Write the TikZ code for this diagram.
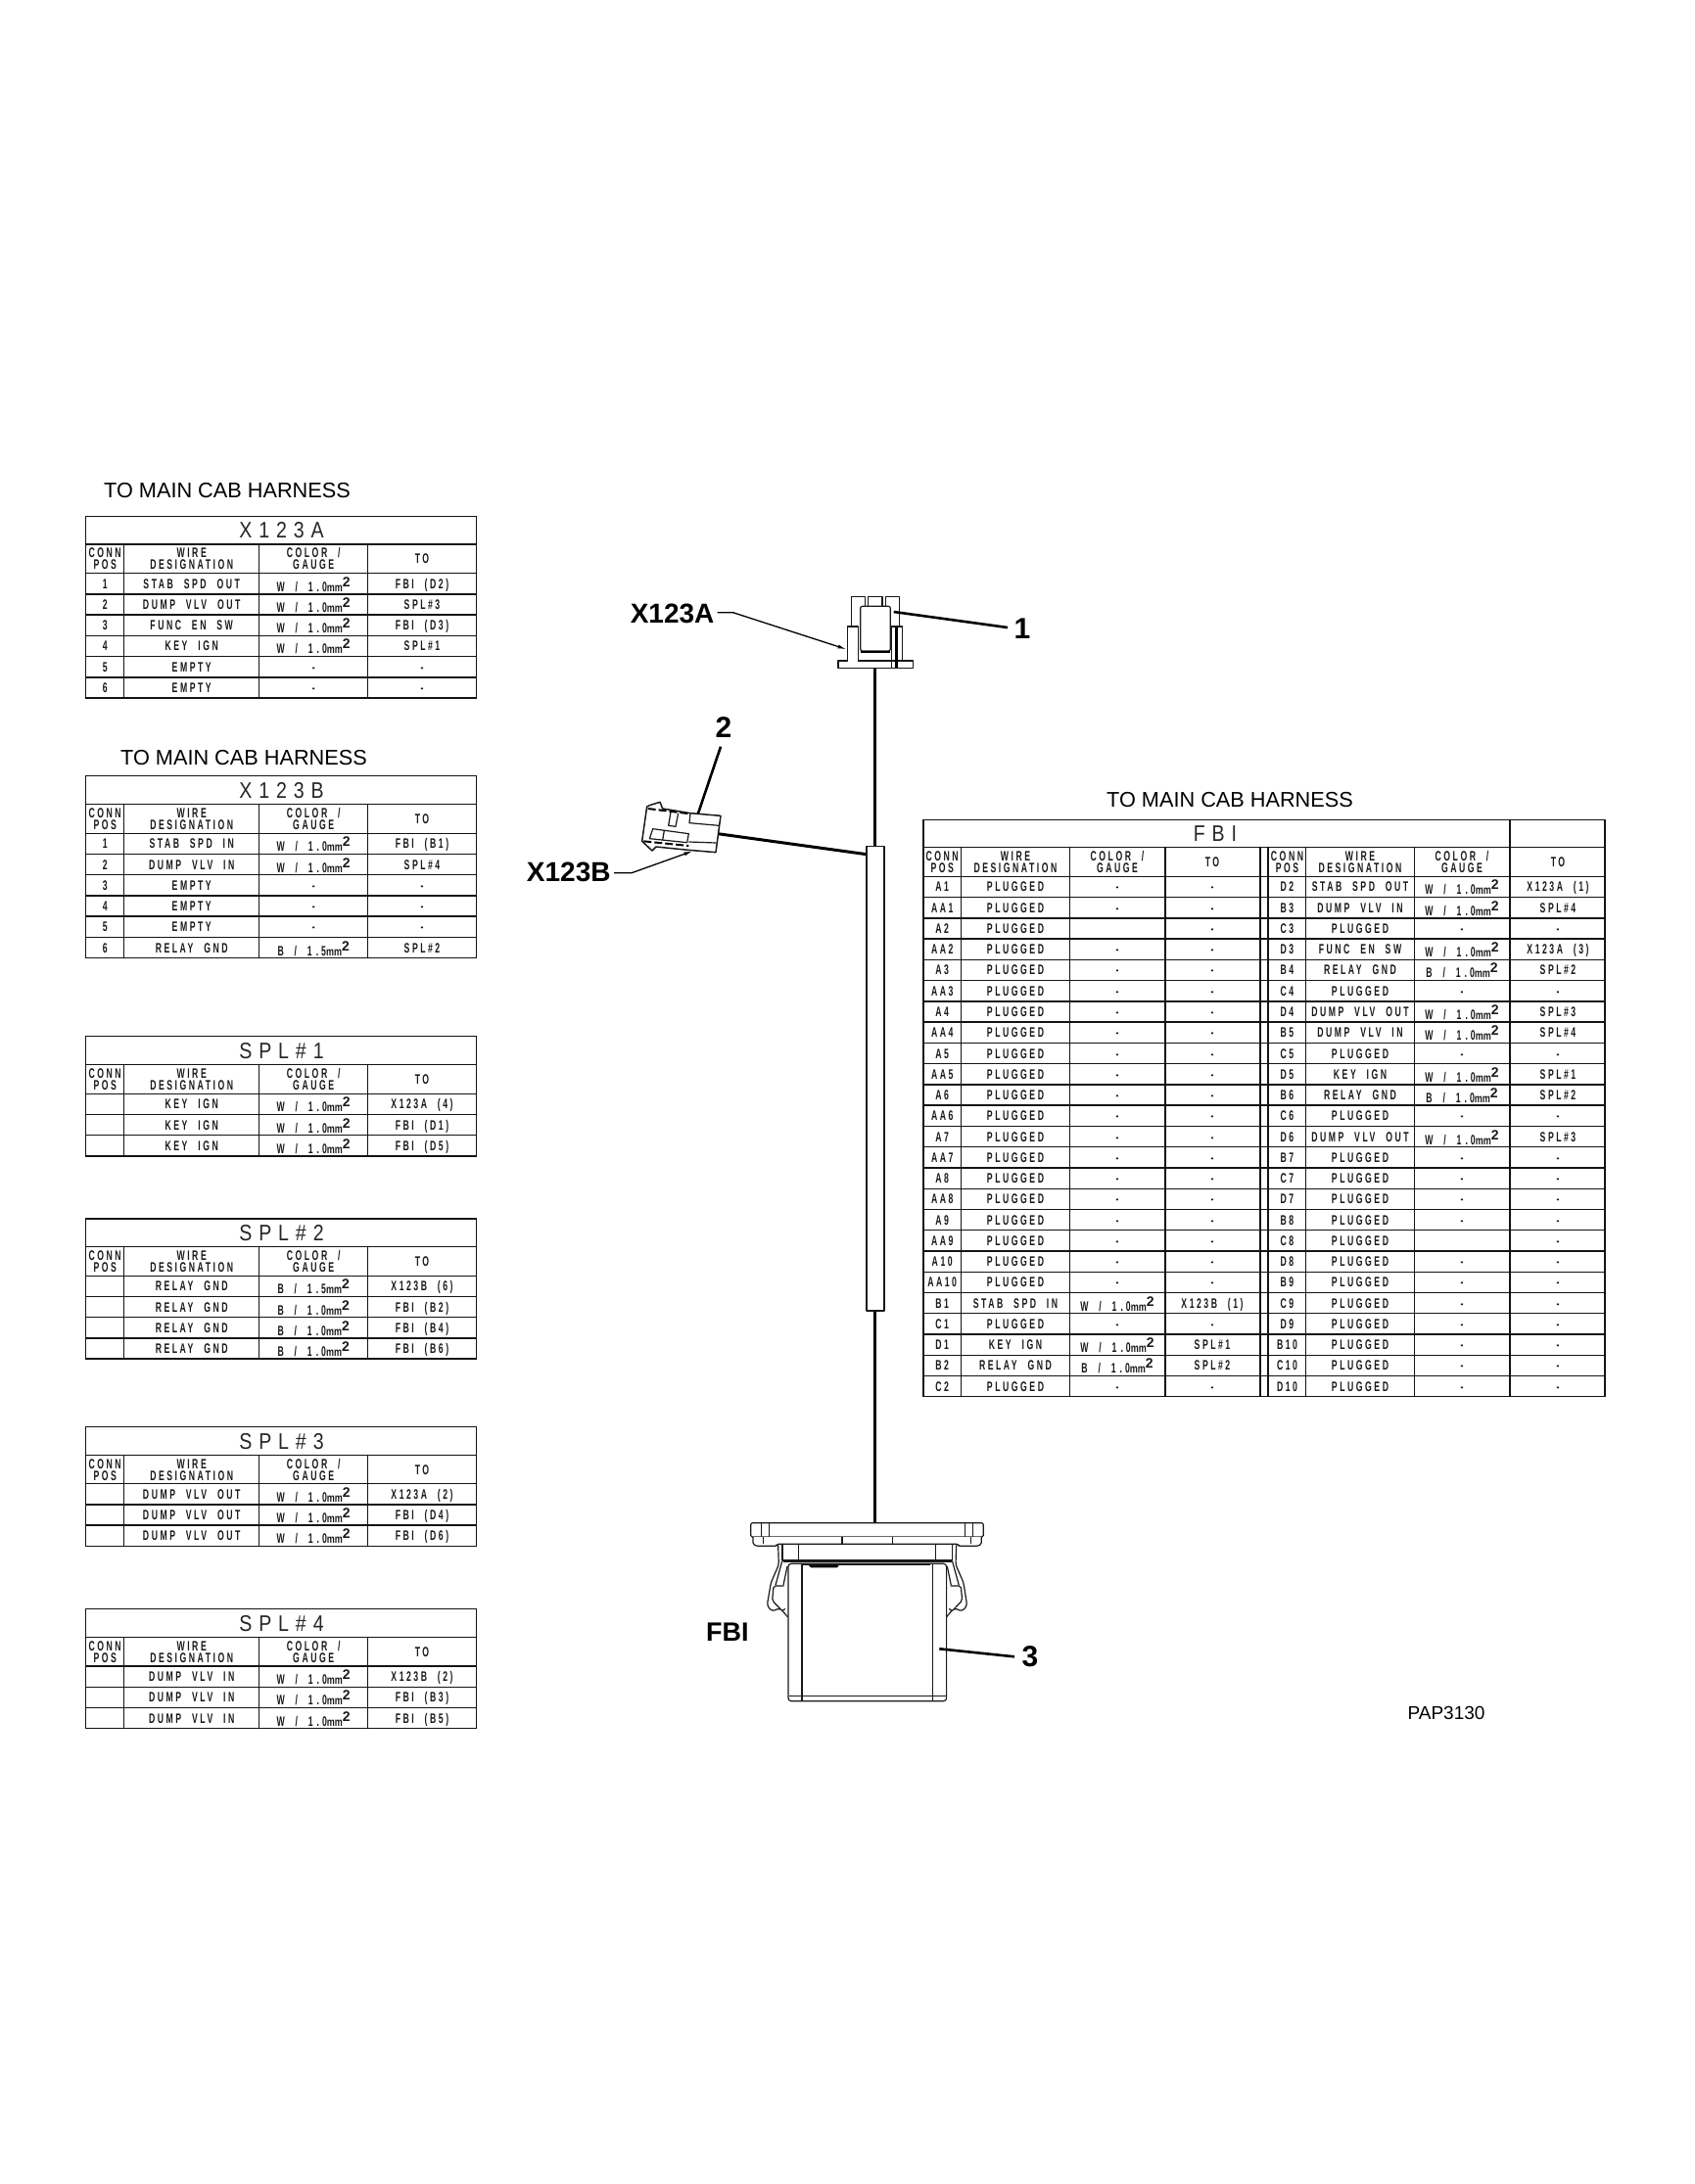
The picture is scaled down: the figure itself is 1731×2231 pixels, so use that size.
\documentclass[tikz,border=0pt]{standalone}
\usepackage{fontspec}
\usetikzlibrary{arrows.meta}
\setmainfont{Liberation Sans}
\newfontfamily\cellfam[FakeStretch=0.62,LetterSpace=18,WordSpace=2.2]{Liberation Sans}
\newfontfamily\ttlfam[FakeStretch=0.85,LetterSpace=30]{Liberation Sans}
\newcommand{\cellfont}{\cellfam\bfseries\fontsize{14}{14}\selectfont}
\newcommand{\ttlfont}{\ttlfam\fontsize{23}{23}\selectfont}
\newcommand{\mmm}{{\fontspec{Liberation Sans}[FakeStretch=0.75]\bfseries\fontsize{12}{12}\selectfont mm}\raisebox{5pt}{{\fontspec{Liberation Sans}\fontsize{14}{14}\selectfont 2}}}
\newcommand{\oneo}{1\hspace{4pt}.\hspace{3pt}0}
\newcommand{\cW}{\raisebox{-3pt}{W / \oneo\mmm}}
\newcommand{\cB}{\raisebox{-3pt}{B / \oneo\mmm}}
\newcommand{\cBf}{\raisebox{-3pt}{B / 1\hspace{4pt}.\hspace{3pt}5\mmm}}
\tikzset{
  tline/.style={line width=1.4pt,line cap=rect,draw=black!92},
  cell/.style={inner sep=0pt,font=\cellfont,text height=10pt,text depth=0pt,text=black!90},
  ttl/.style={inner sep=0pt,font=\ttlfont,text height=16.5pt,text depth=0pt,text=black!85},
  harn/.style={inner sep=0pt,font=\fontsize{21.7}{23}\selectfont,text=black},
  callout/.style={inner sep=0pt,font=\bfseries\fontsize{28}{28}\selectfont,text=black},
  callnum/.style={inner sep=0pt,font=\bfseries\fontsize{30}{30}\selectfont,text=black},
  part/.style={line width=1.2pt,draw=black!90,line join=round},
  leader/.style={line width=1.3pt,draw=black},
  callline/.style={line width=2.6pt,draw=black},
  wire/.style={line width=3pt,draw=black}
}
\newcommand{\hdr}[5]{% name, x, ymid, line1, line2
  \node[cell,name=#1a] at (#2,{#3-6}) {#4};
  \node[cell,name=#1b] at (#2,{#3+6}) {#5};}
\newcommand{\mktable}[6]{% name, top, titlebot, headbot, title, nrows
  \def\tn{#1}\def\hb{#4}
  \pgfmathsetmacro{\tbot}{#4+#6*21.22}
  \draw[tline] (87.7,#2) rectangle (486.3,\tbot);
  \draw[tline] (87.7,#3) -- (486.3,#3);
  \draw[tline] (87.7,#4) -- (486.3,#4);
  \foreach \i in {1,...,#6}{\draw[tline] (87.7,{#4+\i*21.22}) -- (486.3,{#4+\i*21.22});}
  \foreach \xx in {126.7,264.7,375.7}{\draw[tline] (\xx,#3) -- (\xx,\tbot);}
  \node[ttl,name=#1-title] at (287.5,{(#2+#3)/2}) {#5};
  \pgfmathsetmacro{\hm}{(#3+#4)/2}
  \hdr{#1-h1}{107.2}{\hm}{CONN}{POS}
  \hdr{#1-h2}{195.7}{\hm}{WIRE}{DESIGNATION}
  \hdr{#1-h3}{320.2}{\hm}{COLOR /}{GAUGE}
  \node[cell,name=#1-h4] at (431,\hm) {TO};
}
\newcommand{\xrow}[5]{% n, pos, wire, color, to
  \pgfmathsetmacro{\ry}{\hb+(#1-.5)*21.22}
  \node[cell,name=\tn-#1a] at (107.2,\ry) {#2};
  \node[cell,name=\tn-#1b] at (195.7,\ry) {#3};
  \node[cell,name=\tn-#1c] at (320.2,\ry) {#4};
  \node[cell,name=\tn-#1d] at (431,\ry) {#5};
}
\newcommand{\frow}[9]{%
  \pgfmathsetmacro{\ry}{895.3+(#1-.5)*21.26}
  \node[cell,name=f-#1a] at (961.2,\ry) {#2};
  \node[cell,name=f-#1b] at (1036,\ry) {#3};
  \node[cell,name=f-#1c] at (1140,\ry) {#4};
  \node[cell,name=f-#1d] at (1237,\ry) {#5};
  \node[cell,name=f-#1e] at (1313.5,\ry) {#6};
  \node[cell,name=f-#1f] at (1388,\ry) {#7};
  \node[cell,name=f-#1g] at (1492,\ry) {#8};
  \node[cell,name=f-#1h] at (1590,\ry) {#9};
}
\newcommand{\PL}{PLUGGED}
\begin{document}
\begin{tikzpicture}[x=1pt,y=-1pt]
\useasboundingbox (0,0) rectangle (1731,2231);
\fill[white] (0,0) rectangle (1731,2231);

% ---- harness titles
\node[harn,name=h1] at (232,501) {TO MAIN CAB HARNESS};
\node[harn,name=h2] at (249,774) {TO MAIN CAB HARNESS};
\node[harn,name=h3] at (1256,817) {TO MAIN CAB HARNESS};

% ---- X123A
\mktable{xa}{527.3}{556}{585.7}{X123A}{6}
\xrow{1}{1}{STAB SPD OUT}{\cW}{FBI (D2)}
\xrow{2}{2}{DUMP VLV OUT}{\cW}{SPL\#3}
\xrow{3}{3}{FUNC EN SW}{\cW}{FBI (D3)}
\xrow{4}{4}{KEY IGN}{\cW}{SPL\#1}
\xrow{5}{5}{EMPTY}{-}{-}
\xrow{6}{6}{EMPTY}{-}{-}
% ---- X123B
\mktable{xb}{792.7}{821.7}{851.3}{X123B}{6}
\xrow{1}{1}{STAB SPD IN}{\cW}{FBI (B1)}
\xrow{2}{2}{DUMP VLV IN}{\cW}{SPL\#4}
\xrow{3}{3}{EMPTY}{-}{-}
\xrow{4}{4}{EMPTY}{-}{-}
\xrow{5}{5}{EMPTY}{-}{-}
\xrow{6}{6}{RELAY GND}{\cBf}{SPL\#2}
% ---- SPL 1
\mktable{s1}{1058.3}{1087.7}{1117.3}{SPL\#1}{3}
\xrow{1}{}{KEY IGN}{\cW}{X123A (4)}
\xrow{2}{}{KEY IGN}{\cW}{FBI (D1)}
\xrow{3}{}{KEY IGN}{\cW}{FBI (D5)}
% ---- SPL 2
\mktable{s2}{1245}{1273.7}{1303.3}{SPL\#2}{4}
\xrow{1}{}{RELAY GND}{\cBf}{X123B (6)}
\xrow{2}{}{RELAY GND}{\cB}{FBI (B2)}
\xrow{3}{}{RELAY GND}{\cB}{FBI (B4)}
\xrow{4}{}{RELAY GND}{\cB}{FBI (B6)}
% ---- SPL 3
\mktable{s3}{1457.7}{1486.3}{1515.7}{SPL\#3}{3}
\xrow{1}{}{DUMP VLV OUT}{\cW}{X123A (2)}
\xrow{2}{}{DUMP VLV OUT}{\cW}{FBI (D4)}
\xrow{3}{}{DUMP VLV OUT}{\cW}{FBI (D6)}
% ---- SPL 4
\mktable{s4}{1643.3}{1672.3}{1702}{SPL\#4}{3}
\xrow{1}{}{DUMP VLV IN}{\cW}{X123B (2)}
\xrow{2}{}{DUMP VLV IN}{\cW}{FBI (B3)}
\xrow{3}{}{DUMP VLV IN}{\cW}{FBI (B5)}

% ---- FBI table
\begin{scope}[shift={(1,0)}]
\draw[tline] (941.9,837.3) rectangle (1638,1426.7);
\draw[tline] (941.9,865.3) -- (1638,865.3);
\draw[tline] (941.9,895.3) -- (1638,895.3);
\draw[tline] (1541,837.3) -- (1541,865.3);
\foreach \i in {1,...,24}{\draw[tline] (941.9,{895.3+\i*21.26}) -- (1638,{895.3+\i*21.26});}
\foreach \xx in {980.5,1091.6,1189,1285.8,1294,1332.7,1443.3,1541}{\draw[tline] (\xx,865.3) -- (\xx,1426.7);}
\node[ttl,name=f-title] at (1240,851.3) {FBI};
\hdr{f-h1}{961.2}{880.3}{CONN}{POS}
\hdr{f-h2}{1036}{880.3}{WIRE}{DESIGNATION}
\hdr{f-h3}{1140}{880.3}{COLOR /}{GAUGE}
\node[cell,name=f-h4] at (1237,880.3) {TO};
\hdr{f-h5}{1313.5}{880.3}{CONN}{POS}
\hdr{f-h6}{1388}{880.3}{WIRE}{DESIGNATION}
\hdr{f-h7}{1492}{880.3}{COLOR /}{GAUGE}
\node[cell,name=f-h8] at (1590,880.3) {TO};
\frow{1}{A1}{\PL}{-}{-}{D2}{STAB SPD OUT}{\cW}{X123A (1)}
\frow{2}{AA1}{\PL}{-}{-}{B3}{DUMP VLV IN}{\cW}{SPL\#4}
\frow{3}{A2}{\PL}{}{-}{C3}{\PL}{-}{-}
\frow{4}{AA2}{\PL}{-}{-}{D3}{FUNC EN SW}{\cW}{X123A (3)}
\frow{5}{A3}{\PL}{-}{-}{B4}{RELAY GND}{\cB}{SPL\#2}
\frow{6}{AA3}{\PL}{-}{-}{C4}{\PL}{-}{-}
\frow{7}{A4}{\PL}{-}{-}{D4}{DUMP VLV OUT}{\cW}{SPL\#3}
\frow{8}{AA4}{\PL}{-}{-}{B5}{DUMP VLV IN}{\cW}{SPL\#4}
\frow{9}{A5}{\PL}{-}{-}{C5}{\PL}{-}{-}
\frow{10}{AA5}{\PL}{-}{-}{D5}{KEY IGN}{\cW}{SPL\#1}
\frow{11}{A6}{\PL}{-}{-}{B6}{RELAY GND}{\cB}{SPL\#2}
\frow{12}{AA6}{\PL}{-}{-}{C6}{\PL}{-}{-}
\frow{13}{A7}{\PL}{-}{-}{D6}{DUMP VLV OUT}{\cW}{SPL\#3}
\frow{14}{AA7}{\PL}{-}{-}{B7}{\PL}{-}{-}
\frow{15}{A8}{\PL}{-}{-}{C7}{\PL}{-}{-}
\frow{16}{AA8}{\PL}{-}{-}{D7}{\PL}{-}{-}
\frow{17}{A9}{\PL}{-}{-}{B8}{\PL}{-}{-}
\frow{18}{AA9}{\PL}{-}{-}{C8}{\PL}{}{-}
\frow{19}{A10}{\PL}{-}{-}{D8}{\PL}{-}{-}
\frow{20}{AA10}{\PL}{-}{-}{B9}{\PL}{-}{-}
\frow{21}{B1}{STAB SPD IN}{\cW}{X123B (1)}{C9}{\PL}{-}{-}
\frow{22}{C1}{\PL}{-}{-}{D9}{\PL}{-}{-}
\frow{23}{D1}{KEY IGN}{\cW}{SPL\#1}{B10}{\PL}{-}{-}
\frow{24}{B2}{RELAY GND}{\cB}{SPL\#2}{C10}{\PL}{-}{-}
\frow{25}{C2}{\PL}{-}{-}{D10}{\PL}{-}{-}
\end{scope}

% ---- wires and sleeve
\coordinate (flangeA) at (893.5,682);
\coordinate (sleeveT) at (893.5,864.3);
\coordinate (sleeveB) at (893.5,1339);
\coordinate (fbiTop) at (893.5,1555.7);
\coordinate (sleeveL) at (885,872.7);
\coordinate (connBr) at (733.3,851.7);
\draw[wire] (flangeA) -- (sleeveT);
\draw[wire] (sleeveB) -- (fbiTop);
\draw[wire] (connBr) -- (sleeveL);
\draw[part] (885,864.3) rectangle (903,1339);

% ---- connector X123A (zoom coordinates)
\begin{scope}[shift={(840,600)},x=0.3333pt,y=-0.3333pt]
  \draw[part] (88,120) -- (88,28) -- (130,28) -- (130,58);
  \draw[part] (140,58) -- (140,28) -- (183,28) -- (183,58);
  \draw[part] (193,58) -- (193,28) -- (235,28) -- (235,120);
  \draw[part] (48,225) -- (48,247) -- (277,247) -- (277,225) -- cycle;
  \fill[white] (78,121) rectangle (109,247);
  \draw[part] (77,225) -- (77,120) -- (110,120) -- (110,225);
  \draw[part] (212,245) -- (212,120) -- (245,120) -- (245,225);
  \draw[line width=2.4pt] (226,122) -- (226,245);
  \draw[part,fill=white,rounded corners=2pt] (116,195) -- (116,58) -- (208,58) -- (208,195) -- cycle;
  \draw[line width=2.4pt] (116,198) -- (208,198);
\end{scope}

% ---- connector X123B (zoom coordinates)
\begin{scope}[shift={(640,800)},x=0.3333pt,y=-0.3333pt]
  \draw[part,line width=1.5pt] (62,72) -- (47,178) -- (78,207) -- (90,195) -- (190,205) -- (273,212) -- (288,100) -- (195,92) -- (110,78) -- (102,58) -- (70,68) -- cycle;
  \draw[part] (195,92) -- (192,122) -- (283,130);
  \draw[part] (190,180) -- (275,183);
  \draw[part] (135,88) -- (128,130) -- (150,133) -- (158,92);
  \draw[part] (80,140) -- (70,170) -- (185,182) -- (190,155) -- cycle;
  \draw[part] (115,145) -- (110,175);
  \draw[line width=2pt,dash pattern=on 8pt off 3pt] (65,78) -- (195,94);
  \draw[line width=2pt,dash pattern=on 8pt off 3pt] (52,178) -- (190,192);
\end{scope}

% ---- connector FBI (zoom coordinates)
\begin{scope}[shift={(700,1520)},x=0.3333pt,y=-0.3333pt]
  \draw[part,fill=white,rounded corners=1.5pt] (200,150) -- (200,107) -- (913,107) -- (913,150) -- cycle;
  \draw[part,fill=white,rounded corners=1.5pt] (207,150) -- (207,172) -- (218,178) -- (280,178) -- (280,172) -- (836,172) -- (836,178) -- (895,178) -- (907,172) -- (907,150);
  \draw[part] (238,150) -- (238,172) (875,150) -- (875,172) (480,150) -- (480,172) (634,150) -- (634,172);
  \draw[part] (232,107) -- (232,150) (256,107) -- (256,150) (857,107) -- (857,150) (880,107) -- (880,150);
  \draw[part] (297,172) -- (297,222) -- (818,222) -- (818,172);
  \draw[part] (347,172) -- (347,222) (767,172) -- (767,222);
  \draw[part] (300,226) -- (818,226);
  \draw[part,rounded corners=3pt] (315,232) -- (315,653) -- (800,653) -- (800,232) -- cycle;
  \draw[part] (357,232) -- (357,653) (757,232) -- (757,653);
  \draw[part] (318,637) -- (798,637);
  \draw[part] (360,236) -- (750,236);
  \fill (378,237) -- (470,237) -- (465,244) -- (385,244) -- cycle;
  \draw[part,rounded corners=3pt] (284,175) -- (286,235) -- (262,290) -- (250,360) -- (265,378) -- (290,368) -- (313,395);
  \draw[part] (296,225) -- (276,298) (312,240) -- (300,298);
  \draw[part,fill=white,rounded corners=2pt] (302,300) -- (270,300) -- (266,345) -- (298,378) -- (305,370);
  \draw[part,rounded corners=3pt] (830,175) -- (828,235) -- (852,290) -- (863,360) -- (848,378) -- (823,368) -- (800,395);
  \draw[part] (818,225) -- (838,298) (802,240) -- (814,298);
  \draw[part,fill=white,rounded corners=2pt] (812,300) -- (844,300) -- (848,345) -- (816,378) -- (808,370);
\end{scope}

% ---- callouts
\node[callout,name=lxa] at (686.6,626.7) {X123A};
\node[callout,name=lxb] at (580.8,890.7) {X123B};
\node[callout,font=\bfseries\fontsize{27}{27}\selectfont,name=lfb] at (742.8,1667.5) {FBI};
\node[callnum,name=n1] at (1044,642) {1};
\node[callnum,name=n2] at (739,743) {2};
\node[callnum,name=n3] at (1052,1692.5) {3};
\coordinate (bendA) at (748.6,625.7);
\coordinate (startA) at (732.5,625.7);
\coordinate (tipA) at (864.6,663.3);
\coordinate (bendB) at (645,891.7);
\coordinate (startB) at (627,891.7);
\coordinate (tipB) at (707.5,869.3);
\coordinate (part1) at (912.7,625);
\coordinate (end1) at (1029,641);
\coordinate (part2) at (712.7,831.7);
\coordinate (end2) at (736,762.7);
\coordinate (part3) at (959.3,1684.3);
\coordinate (end3) at (1036,1692.3);
\draw[leader,-{Latex[length=9pt,width=4pt]}] (startA) -- (bendA) -- (tipA);
\draw[leader,-{Latex[length=9pt,width=4pt]}] (startB) -- (bendB) -- (tipB);
\draw[callline] (part1) -- (end1);
\draw[callline] (part2) -- (end2);
\draw[callline] (part3) -- (end3);

\node[inner sep=0pt,font=\fontsize{19}{19}\selectfont,text=black,name=pap] at (1477,1750) {PAP3130};
\end{tikzpicture}
\end{document}
